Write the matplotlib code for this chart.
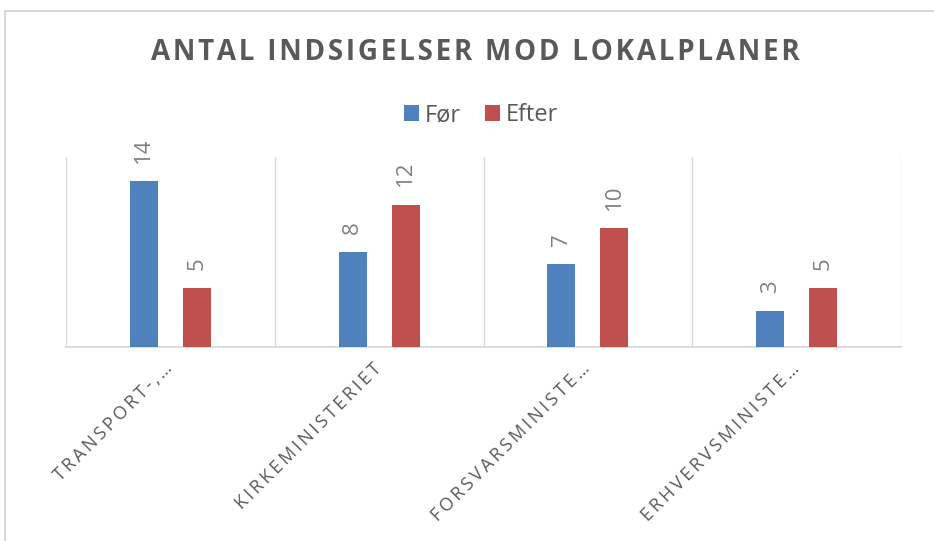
import matplotlib
matplotlib.use("Agg")
import matplotlib.pyplot as plt
import matplotlib.transforms as mtransforms
from matplotlib.patches import Rectangle
import numpy as np

categories = ["TRANSPORT-,…", "KIRKEMINISTERIET", "FORSVARSMINISTE…", "ERHVERVSMINISTE…"]
series_names = ["Før", "Efter"]
foer = [14, 8, 7, 3]
efter = [5, 12, 10, 5]
title = "ANTAL INDSIGELSER MOD LOKALPLANER"

FAM = ["Open Sans", "DejaVu Sans"]
plt.rcParams["font.family"] = FAM

BLUE = "#4f81bd"
RED = "#c0504d"
GRID = "#d9d9d9"
TXT = "#595959"
LBL = "#808080"


def spaced(s, sep="\u2009"):
    return sep.join(s)


W, H = 934, 541
fig = plt.figure(figsize=(W / 100, H / 100), dpi=100)
fig.patches.append(Rectangle((5 / W, -0.1), 2, 1 - 11 / H + 0.1, transform=fig.transFigure,
                             fill=False, edgecolor=GRID, lw=1.5))

ax = fig.add_axes([66 / W, 1 - 347 / H, (901 - 66) / W, (347 - 157) / H])
x = np.arange(len(categories))
off, bw = 0.127, 0.134
b1 = ax.bar(x - off, foer, bw, color=BLUE, label=series_names[0], zorder=3)
b2 = ax.bar(x + off, efter, bw, color=RED, label=series_names[1], zorder=3)

for bars, vals in ((b1, foer), (b2, efter)):
    for r, v in zip(bars, vals):
        ax.annotate(str(v), (r.get_x() + r.get_width() / 2, r.get_height()),
                    xytext=(0, 13), textcoords="offset points", rotation=90,
                    ha="center", va="bottom", fontsize=16, color=LBL)

ax.set_xlim(-0.5, len(categories) - 0.5)
ax.set_ylim(0, 16)
for xv in np.arange(-0.5, len(categories), 1.0):
    ax.axvline(xv, color=GRID, lw=1, zorder=1)
for s in ("top", "left", "right"):
    ax.spines[s].set_visible(False)
ax.spines["bottom"].set_color(GRID)
ax.spines["bottom"].set_linewidth(1.3)
ax.set_yticks([])
ax.set_xticks(x)
ax.set_xticklabels([spaced(c) for c in categories], rotation=45, ha="right",
                   fontsize=13, color=TXT)
ax.tick_params(axis="x", length=0, pad=9)
shift = mtransforms.ScaledTranslation(6 / 100, 0, fig.dpi_scale_trans)
for lab in ax.get_xticklabels():
    lab.set_transform(lab.get_transform() + shift)

fig.text(475 / W, 1 - 53 / H, spaced(title, "\u200a"), ha="center", va="center",
         fontsize=20, fontweight="bold", color=TXT)

leg = ax.legend(loc="center", bbox_to_anchor=(481 / W, 1 - 115 / H), bbox_transform=fig.transFigure,
                ncol=2, frameon=False, fontsize=17, handlelength=0.65, handleheight=0.65,
                handletextpad=0.25, columnspacing=1.0, labelcolor=TXT)

fig.savefig("out.png", dpi=100)
